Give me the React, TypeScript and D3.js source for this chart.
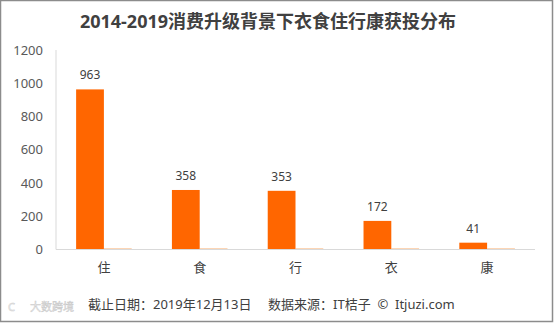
import React from "react";
import * as d3 from "d3";

const categories = ["住", "食", "行", "衣", "康"];
const seriesMain = [963, 358, 353, 172, 41];
const seriesMinor = [6, 6, 6, 6, 6];
const yTicks = [0, 200, 400, 600, 800, 1000, 1200];
const title = "2014-2019消费升级背景下衣食住行康获投分布";
const footerDate = "截止日期：2019年12月13日";
const footerSource = "数据来源：IT桔子  ©  Itjuzi.com";

const W = 554;
const H = 323;
const FONT = "'Noto Sans', 'Noto Sans CJK SC', sans-serif";

export default function App() {
  const left = 56, right = 535, top = 50, bottom = 249.5;
  const x = d3.scaleBand<string>().domain(categories).range([left, right]).paddingInner(0).paddingOuter(0);
  const y = d3.scaleLinear().domain([0, 1200]).range([bottom, top]);
  const bw = x.bandwidth();
  const barW = bw * 0.29;
  const orange = "#FF6600";
  return (
    <div style={{ position: "fixed", left: 0, top: 0 }}>
      <svg width={W} height={H} style={{ display: "block", fontFamily: FONT }}>
        <rect x={0} y={0} width={W} height={H} fill="#fff" />
        <rect x={0.5} y={0.5} width={W - 2} height={H - 2} fill="none" stroke="#8c8c8c" strokeWidth={1.5} />
        <text x={268} y={28} textAnchor="middle" fontSize={18} fontWeight="bold" fill="#404040">{title}</text>
        {yTicks.map((t) => (
          <text key={t} x={43} y={y(t)} dy="0.35em" textAnchor="end" fontSize={13} fill="#595959">{t}</text>
        ))}
        <line x1={left} x2={left} y1={top} y2={bottom} stroke="#d9d9d9" strokeWidth={1} />
        {categories.map((c, i) => {
          const cx = (x(c) as number) + bw / 2;
          return (
            <g key={c}>
              <rect x={cx - barW} y={y(seriesMain[i])} width={barW} height={bottom - y(seriesMain[i])} fill={orange} />
              <rect x={cx} y={y(seriesMinor[i])} width={barW} height={bottom - y(seriesMinor[i])} fill="#F79646" opacity={0.8} />
              <text x={cx - barW / 2} y={y(seriesMain[i]) - 10} textAnchor="middle" fontSize={12} fill="#404040">{seriesMain[i]}</text>
              <text x={cx} y={272} textAnchor="middle" fontSize={13} fill="#404040">{c}</text>
            </g>
          );
        })}
        <line x1={left} x2={right} y1={bottom} y2={bottom} stroke="#d9d9d9" strokeWidth={1} />
        <text x={88} y={309} fontSize={13} fill="#404040">{footerDate}</text>
        <text x={268} y={309} fontSize={13} fill="#404040" style={{ whiteSpace: "pre" }}>{footerSource}</text>
        <text x={8} y={311} fontSize={11} fill="none" stroke="#d0d0d0" strokeWidth={0.6}>{"C"}</text>
        <text x={30} y={311} fontSize={11} fill="#e6e6e6" stroke="#c8c8c8" strokeWidth={0.4}>大数跨境</text>
      </svg>
    </div>
  );
}
